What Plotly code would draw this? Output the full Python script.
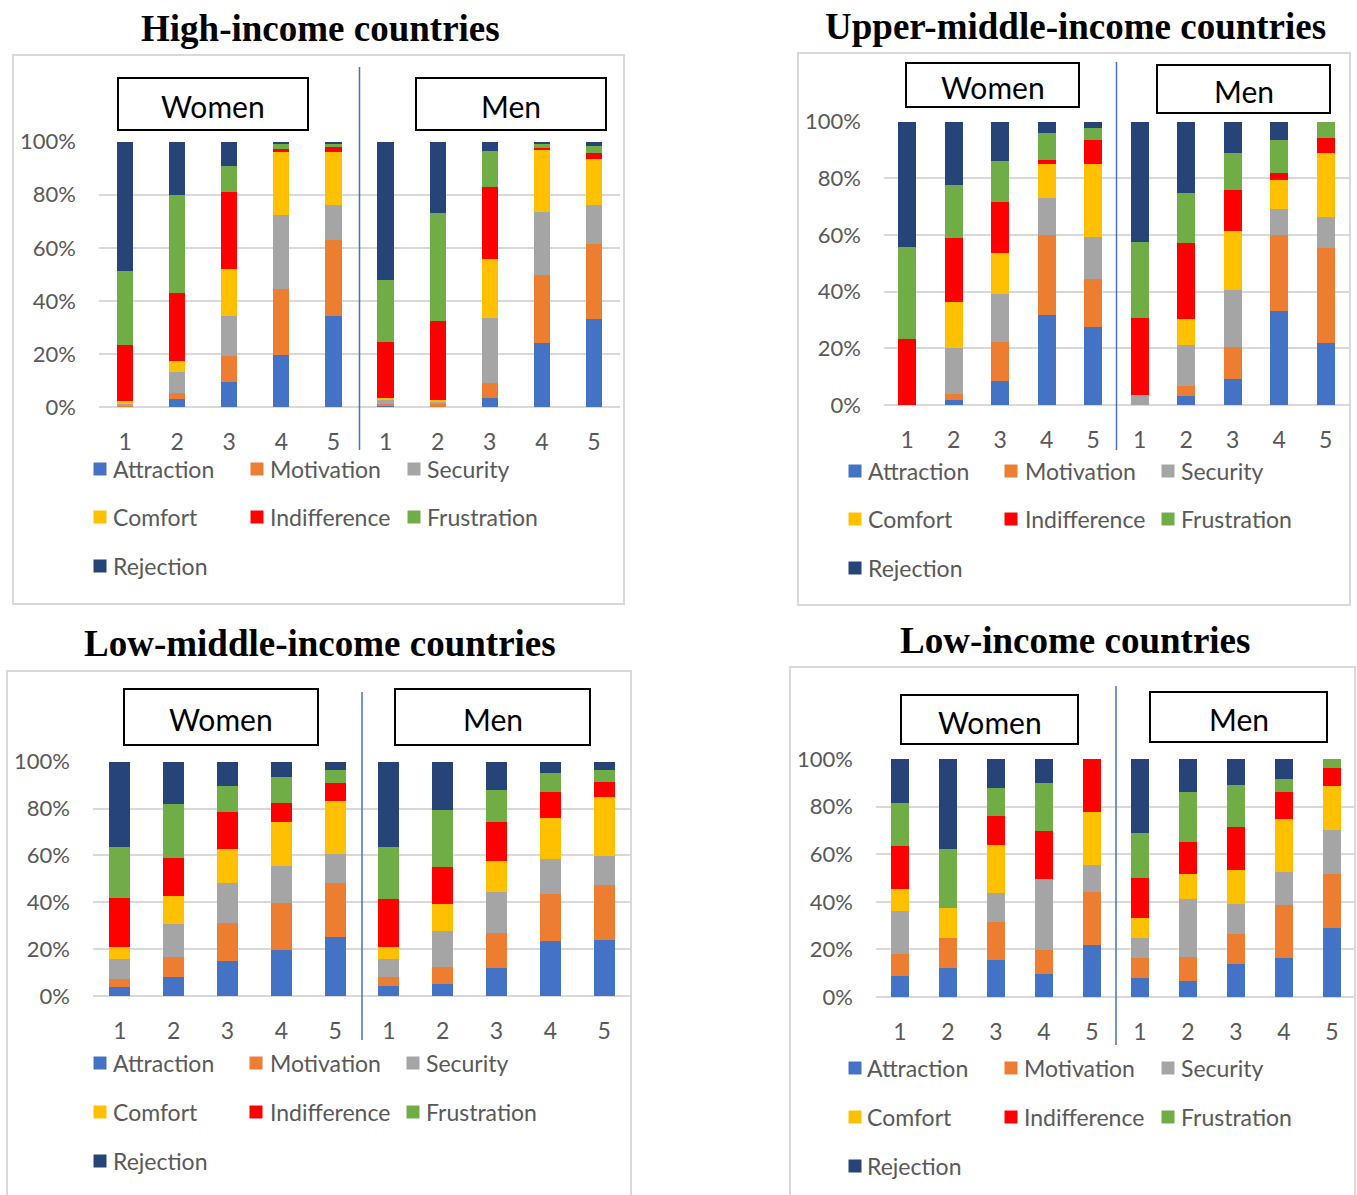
import plotly.graph_objects as go

W, H = 1357, 1195

# ---------------- data ----------------
categories = ["Attraction", "Motivation", "Security", "Comfort",
              "Indifference", "Frustration", "Rejection"]
x_labels = ["1", "2", "3", "4", "5", "1", "2", "3", "4", "5"]  # women 1-5, men 1-5
y_ticks = [0, 20, 40, 60, 80, 100]
y_tick_labels = ["0%", "20%", "40%", "60%", "80%", "100%"]

# High-income countries (%), women 1-5 then men 1-5
hi_attraction = [0.2, 2.9, 9.5, 19.7, 34.4, 0.5, 0.3, 3.3, 24.0, 33.0]
hi_motivation = [0.6, 2.4, 9.8, 24.8, 28.6, 0.75, 0.7, 5.9, 25.9, 28.5]
hi_security = [0.5, 8.0, 15.0, 27.9, 13.3, 1.5, 0.8, 24.4, 23.6, 14.7]
hi_comfort = [0.8, 4.1, 17.9, 24.2, 19.7, 0.7, 1.0, 22.2, 23.4, 17.1]
hi_indifference = [21.2, 25.6, 28.9, 0.5, 2.4, 21.1, 29.7, 27.1, 0.8, 2.6]
hi_frustration = [27.8, 36.9, 9.9, 2.1, 0.7, 23.3, 40.5, 13.6, 1.8, 2.5]
hi_rejection = [48.9, 20.1, 9.0, 0.8, 0.9, 52.1, 27.0, 3.5, 0.5, 1.6]

# Upper-middle-income countries
um_attraction = [0.0, 1.9, 8.4, 31.8, 27.4, 0.0, 3.3, 9.1, 33.2, 22.0]
um_motivation = [0.0, 2.0, 13.8, 28.1, 17.1, 0.0, 3.5, 11.4, 26.8, 33.5]
um_security = [0.0, 16.3, 17.1, 13.3, 14.8, 3.5, 14.4, 20.1, 9.1, 11.0]
um_comfort = [0.0, 16.3, 14.5, 12.0, 25.8, 0.0, 9.0, 20.7, 10.2, 22.3]
um_indifference = [23.4, 22.6, 17.8, 1.3, 8.4, 27.1, 26.9, 14.7, 2.6, 5.6]
um_frustration = [32.4, 18.5, 14.4, 9.4, 4.3, 26.9, 17.9, 13.1, 11.5, 5.6]
um_rejection = [44.2, 22.4, 14.0, 4.1, 2.2, 42.5, 25.0, 10.9, 6.6, 0.0]

# Low-middle-income countries
lm_attraction = [3.7, 8.1, 15.1, 19.8, 25.3, 4.3, 5.3, 12.1, 23.3, 23.8]
lm_motivation = [3.4, 8.7, 16.1, 19.9, 22.8, 4.0, 7.2, 14.8, 20.2, 23.6]
lm_security = [8.8, 14.1, 17.0, 15.6, 12.5, 7.6, 15.1, 17.5, 15.1, 12.3]
lm_comfort = [5.0, 11.9, 14.4, 18.8, 22.8, 4.9, 11.8, 13.1, 17.5, 25.2]
lm_indifference = [21.1, 16.2, 16.1, 8.4, 7.6, 20.5, 15.6, 16.8, 10.8, 6.3]
lm_frustration = [21.6, 23.1, 10.9, 10.8, 5.4, 22.3, 24.5, 13.5, 8.3, 5.4]
lm_rejection = [36.4, 17.9, 10.4, 6.7, 3.6, 36.4, 20.5, 12.2, 4.8, 3.4]

# Low-income countries
li_attraction = [8.7, 12.2, 15.7, 9.7, 22.0, 8.0, 6.6, 14.0, 16.4, 29.2]
li_motivation = [9.2, 12.6, 16.0, 10.0, 22.2, 8.4, 10.3, 12.4, 22.3, 22.5]
li_security = [18.3, 0.0, 12.2, 30.0, 11.2, 8.4, 24.1, 12.6, 13.9, 18.5]
li_comfort = [9.0, 12.5, 20.0, 0.0, 22.2, 8.2, 10.5, 14.4, 22.2, 18.6]
li_indifference = [18.3, 0.0, 12.0, 20.1, 22.4, 16.8, 13.8, 17.9, 11.4, 7.4]
li_frustration = [18.2, 24.9, 12.1, 20.1, 0.0, 18.9, 20.7, 17.9, 5.4, 3.8]
li_rejection = [18.3, 37.8, 12.0, 10.1, 0.0, 31.3, 14.0, 10.8, 8.4, 0.0]

# ---------------- styling ----------------
colors = ["#4472C4", "#ED7D31", "#A5A5A5", "#FFC000", "#FF0000", "#70AD47", "#264478"]
SANS = "Lato, 'Open Sans', sans-serif"
SERIF = "'Liberation Serif', 'DejaVu Serif', serif"
GREY_TXT = "#595959"
GRID = "#D9D9D9"


def fx(p):
    return p / W


def fy(p):
    return 1 - p / H


panels = [
    dict(title="High-income countries", title_xy=(320, 28),
         border=(13, 55, 624, 604), plot=(99, 620, 141.7, 407), bar_w=0.31,
         women=(118, 78, 308, 130), men=(416, 78, 606, 130),
         sep_y=(67, 450), leg_x=[(100, 111), (257, 268), (414, 425)],
         leg_y=[469, 517, 566],
         series=[hi_attraction, hi_motivation, hi_security, hi_comfort,
                 hi_indifference, hi_frustration, hi_rejection]),
    dict(title="Upper-middle-income countries", title_xy=(1075, 26),
         border=(798, 53, 1350, 605), plot=(884, 1349, 121.7, 405), bar_w=0.39,
         women=(906, 63, 1079, 107), men=(1157, 65, 1330, 113),
         sep_y=(62, 450), leg_x=[(855, 866), (1011, 1023), (1168, 1179)],
         leg_y=[471, 519, 568],
         series=[um_attraction, um_motivation, um_security, um_comfort,
                 um_indifference, um_frustration, um_rejection]),
    dict(title="Low-middle-income countries", title_xy=(320, 643),
         border=(7, 671, 631, 1200), plot=(93, 631, 761.7, 996), bar_w=0.39,
         women=(124, 689, 318, 745), men=(395, 689, 590, 745),
         sep_y=(692, 1040), leg_x=[(100, 111), (256, 268), (413, 424)],
         leg_y=[1063, 1112, 1161],
         series=[lm_attraction, lm_motivation, lm_security, lm_comfort,
                 lm_indifference, lm_frustration, lm_rejection]),
    dict(title="Low-income countries", title_xy=(1075, 640),
         border=(790, 667, 1355, 1200), plot=(876, 1356, 759, 997), bar_w=0.39,
         women=(901, 695, 1078, 744), men=(1150, 692, 1327, 742),
         sep_y=(686, 1045), leg_x=[(855, 865), (1011, 1022), (1168, 1179)],
         leg_y=[1068, 1117, 1166],
         series=[li_attraction, li_motivation, li_security, li_comfort,
                 li_indifference, li_frustration, li_rejection]),
]

fig = go.Figure()
shapes = []
annotations = []
layout = {}

for i, p in enumerate(panels):
    s = "" if i == 0 else str(i + 1)
    xs = list(range(len(x_labels)))
    for cat, col, vals in zip(categories, colors, p["series"]):
        fig.add_trace(go.Bar(x=xs, y=vals, name=cat, marker_color=col,
                             marker_line_width=0, width=p["bar_w"],
                             xaxis="x" + s, yaxis="y" + s, showlegend=False))
    l, r, top, bot = p["plot"]
    layout["xaxis" + s] = dict(domain=[fx(l), fx(r)], range=[-0.5, len(x_labels) - 0.5],
                               tickmode="array", tickvals=xs, ticktext=x_labels,
                               showgrid=False, automargin=False,
                               zeroline=False, showline=False, ticks="",
                               ticklabelstandoff=19, anchor="y" + s,
                               tickfont=dict(family=SANS, size=23, color=GREY_TXT))
    layout["yaxis" + s] = dict(domain=[fy(bot), fy(top)], range=[0, 100],
                               tickmode="array", tickvals=y_ticks,
                               ticktext=y_tick_labels, showgrid=True,
                               automargin=False,
                               gridcolor=GRID, gridwidth=1.5, zeroline=True,
                               zerolinecolor=GRID, zerolinewidth=1.5,
                               showline=False, ticks="", ticklabelstandoff=22,
                               anchor="x" + s,
                               tickfont=dict(family=SANS, size=22, color=GREY_TXT))
    # outer border
    bx0, by0, bx1, by1 = p["border"]
    shapes.append(dict(type="rect", xref="paper", yref="paper",
                       x0=fx(bx0), x1=fx(bx1), y0=fy(by1), y1=fy(by0),
                       line=dict(color=GRID, width=2), fillcolor="rgba(0,0,0,0)",
                       layer="below"))
    # title
    tx, ty = p["title_xy"]
    annotations.append(dict(text="<b>" + p["title"] + "</b>", x=fx(tx), y=fy(ty),
                            xref="paper", yref="paper", showarrow=False,
                            xanchor="center", yanchor="middle",
                            font=dict(family=SERIF, size=37, color="black")))
    # separator
    sy0, sy1 = p["sep_y"]
    shapes.append(dict(type="line", xref="x" + s, yref="paper",
                       x0=4.5, x1=4.5, y0=fy(sy1), y1=fy(sy0),
                       line=dict(color="#4472C4", width=1.5)))
    # Women / Men boxes
    for label, box in (("Women", p["women"]), ("Men", p["men"])):
        x0, y0, x1, y1 = box
        shapes.append(dict(type="rect", xref="paper", yref="paper",
                           x0=fx(x0), x1=fx(x1), y0=fy(y1), y1=fy(y0),
                           line=dict(color="black", width=2), fillcolor="white"))
        annotations.append(dict(text=label, x=fx((x0 + x1) / 2), y=fy((y0 + y1) / 2 + 2),
                                xref="paper", yref="paper", showarrow=False,
                                xanchor="center", yanchor="middle",
                                font=dict(family=SANS, size=30, color="black")))
    # manual legend
    for k, (cat, col) in enumerate(zip(categories, colors)):
        row, colm = divmod(k, 3)
        mx, tx_ = p["leg_x"][colm]
        my = p["leg_y"][row]
        shapes.append(dict(type="rect", xref="paper", yref="paper",
                           x0=fx(mx - 6.5), x1=fx(mx + 6.5),
                           y0=fy(my + 6.5), y1=fy(my - 6.5),
                           line=dict(width=0), fillcolor=col))
        annotations.append(dict(text=cat, x=fx(tx_), y=fy(my), xref="paper",
                                yref="paper", showarrow=False, xanchor="left",
                                yanchor="middle",
                                font=dict(family=SANS, size=23, color=GREY_TXT)))

fig.update_layout(
    width=W, height=H, margin=dict(l=0, r=0, t=0, b=0, autoexpand=False),
    paper_bgcolor="white", plot_bgcolor="white", barmode="stack",
    shapes=shapes, annotations=annotations, **layout,
)

fig.write_html("out.html")
